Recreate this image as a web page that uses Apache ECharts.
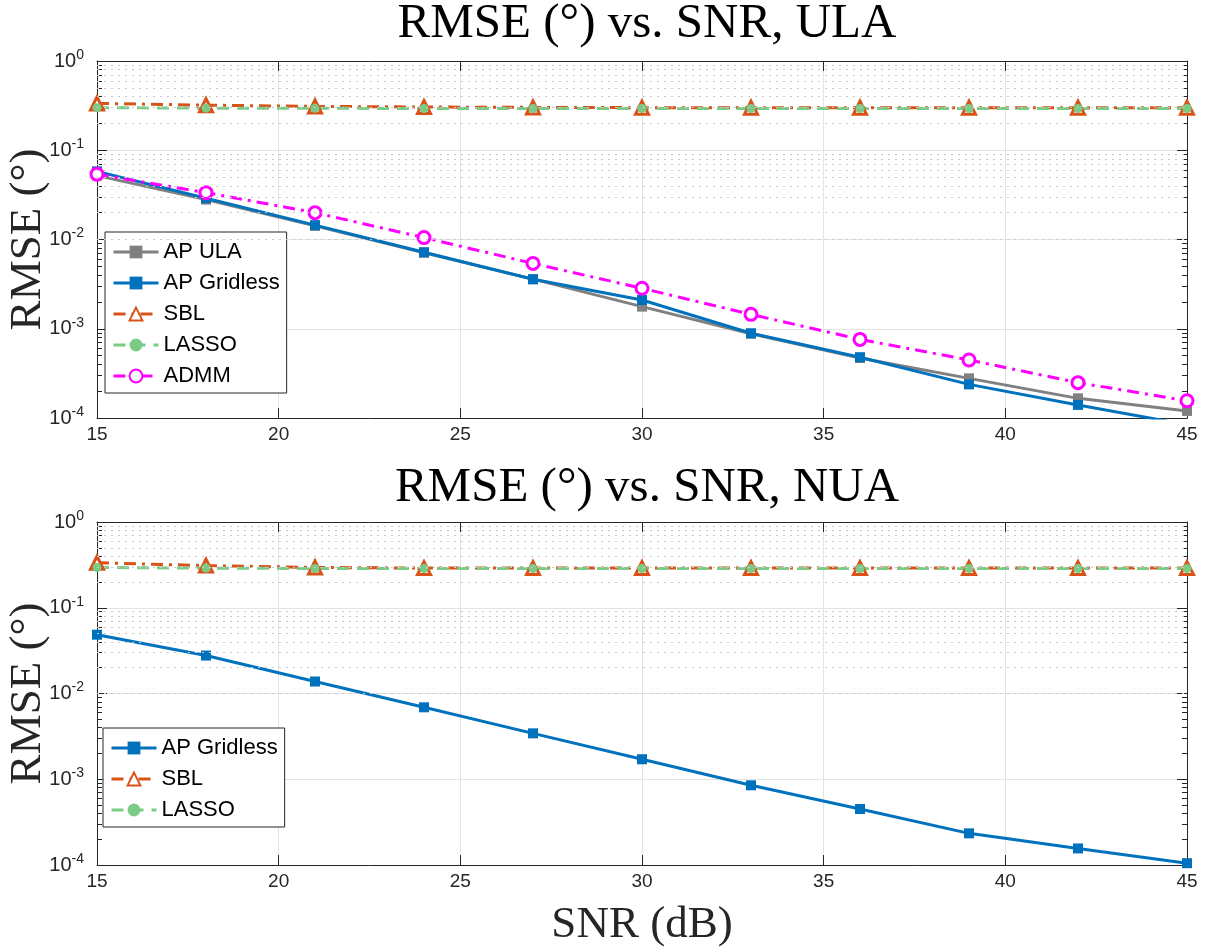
<!DOCTYPE html>
<html>
<head>
<meta charset="utf-8">
<script src="https://cdn.jsdelivr.net/npm/echarts@6/dist/echarts.min.js"></script>
<style>
html,body{margin:0;padding:0;background:#fff;}
#c{width:1206px;height:950px;}
</style>
</head>
<body>
<div id="c"></div>
<script>
// ---- data ----
const snr = [15, 18, 21, 24, 27, 30, 33, 36, 39, 42, 45];
const xTicks = [15, 20, 25, 30, 35, 40, 45];
const yTicks = [1e-4, 1e-3, 1e-2, 1e-1, 1];

// top: ULA
const ulaApUla    = [0.052, 0.028, 0.0142, 0.0071, 0.0036, 0.00177, 0.00088, 0.00047, 0.000278, 0.000166, 0.00012];
const ulaApGrid   = [0.058, 0.029, 0.0145, 0.0072, 0.00358, 0.0021, 0.00089, 0.00048, 0.000238, 0.00014, 0.000084];
const ulaSbl      = [0.335, 0.32, 0.31, 0.305, 0.302, 0.30, 0.30, 0.30, 0.30, 0.30, 0.30];
const ulaLasso    = [0.30, 0.296, 0.295, 0.294, 0.294, 0.294, 0.294, 0.294, 0.294, 0.294, 0.294];
const ulaAdmm     = [0.054, 0.0335, 0.020, 0.0105, 0.0054, 0.00284, 0.00145, 0.00076, 0.000447, 0.000249, 0.000156];

// bottom: NUA
const nuaApGrid   = [0.0485, 0.0277, 0.0138, 0.0069, 0.00343, 0.00171, 0.00085, 0.00045, 0.000234, 0.000156, 0.000105];
const nuaSbl      = [0.335, 0.31, 0.295, 0.29, 0.29, 0.29, 0.29, 0.29, 0.29, 0.29, 0.29];
const nuaLasso    = [0.295, 0.29, 0.287, 0.286, 0.286, 0.286, 0.286, 0.286, 0.286, 0.286, 0.286];

const titles = ['RMSE (\u00B0) vs. SNR, ULA', 'RMSE (\u00B0) vs. SNR, NUA'];
const yName = 'RMSE (\u00B0)';
const xName = 'SNR (dB)';
const minorMult = [2, 3, 4, 5, 6, 7, 8, 9];
// ---------------

const C = {
  gray: '#808080', blue: '#0072BD', orange: '#D95319', green: '#7ACB86', magenta: '#FF00FF', axis: '#262626'
};
const sans = 'Liberation Sans, Arial, Helvetica, sans-serif';
const serif = 'Liberation Serif, DejaVu Serif, serif';

function pairs(vals) { return snr.map((x, i) => [x, vals[i]]); }

const minorVals = [];
for (let e = -4; e < 0; e++) minorMult.forEach(m => minorVals.push(m * Math.pow(10, e)));
const minorLines = minorVals.map(v => ({ yAxis: v }));

const grids = [
  { left: 97, top: 61, width: 1090, height: 357, containLabel: false, outerBoundsMode: 'none' },
  { left: 97, top: 522, width: 1090, height: 343, containLabel: false, outerBoundsMode: 'none' }
];

function xAxisMain(gi, withName) {
  return {
    type: 'value', gridIndex: gi, min: 15, max: 45, interval: 5, position: 'bottom',
    axisLine: { show: true, onZero: false, lineStyle: { color: C.axis, width: 1 } },
    axisTick: { show: true, inside: true, length: 10, lineStyle: { color: C.axis } },
    axisLabel: { color: C.axis, fontSize: 19, fontFamily: sans, margin: 7 },
    splitLine: { show: true, lineStyle: { color: '#e3e3e3', width: 1 } },
    name: withName ? xName : '', nameLocation: 'middle', nameGap: 38, nameMoveOverlap: false,
    nameTextStyle: { fontFamily: serif, fontSize: 45, color: C.axis }
  };
}
function xAxisTop(gi) {
  return {
    type: 'value', gridIndex: gi, min: 15, max: 45, interval: 5, position: 'top',
    axisLine: { show: true, onZero: false, lineStyle: { color: C.axis, width: 1 } },
    axisTick: { show: true, inside: true, length: 10, lineStyle: { color: C.axis } },
    axisLabel: { show: false }, splitLine: { show: false }
  };
}
function supFmt(v) {
  const e = Math.round(Math.log10(v));
  return '{b|10}{s|' + e + '}';
}
function yAxisMain(gi) {
  return {
    type: 'log', gridIndex: gi, min: 1e-4, max: 1, logBase: 10, position: 'left',
    axisLine: { show: true, onZero: false, lineStyle: { color: C.axis, width: 1 } },
    axisTick: { show: true, inside: true, length: 10, lineStyle: { color: C.axis } },
    axisLabel: {
      color: C.axis, margin: 13, formatter: supFmt,
      rich: {
        b: { fontSize: 20, fontFamily: sans, color: C.axis },
        s: { fontSize: 14, fontFamily: sans, color: C.axis, padding: [0, 0, 12, 0] }
      }
    },
    splitLine: { show: true, lineStyle: { color: '#e3e3e3', width: 1 } },
    name: yName, nameLocation: 'middle', nameGap: 46, nameRotate: 90, nameMoveOverlap: false,
    nameTextStyle: { fontFamily: serif, fontSize: 45, color: C.axis }
  };
}
function yAxisPlain(gi, pos, minor) {
  return {
    type: 'log', gridIndex: gi, min: 1e-4, max: 1, logBase: 10, position: pos,
    axisLine: { show: !minor, onZero: false, lineStyle: { color: C.axis, width: 1 } },
    axisTick: minor
      ? { show: true, inside: true, length: 5, customValues: minorVals, lineStyle: { color: C.axis } }
      : { show: true, inside: true, length: 10, lineStyle: { color: C.axis } },
    axisLabel: { show: false }, splitLine: { show: false }
  };
}

const NY = 4;
function series(name, gi, vals, color, dash, symbol, opts) {
  opts = opts || {};
  return {
    name: name, type: 'line', xAxisIndex: gi * 2, yAxisIndex: gi * NY,
    data: pairs(vals), symbol: symbol, symbolSize: opts.size || 10,
    showAllSymbol: true, clip: true,
    lineStyle: { color: color, width: 3, type: dash },
    itemStyle: { color: opts.fill || color, borderColor: color, borderWidth: opts.bw || 0 },
    emphasis: { disabled: true }, z: opts.z || 2
  };
}
function minorSeries(gi) {
  return {
    type: 'line', xAxisIndex: gi * 2, yAxisIndex: gi * NY, data: [], silent: true,
    markLine: {
      silent: true, symbol: 'none', label: { show: false },
      lineStyle: { color: '#c8c8c8', type: [2, 5], width: 1 },
      data: minorLines, animation: false
    }
  };
}

const dashDot = [12, 6, 3, 6];
const dashed = [12, 8];

function legendCfg(names, left, top) {
  return {
    data: names, orient: 'vertical',
    left: left, top: top, itemWidth: 45, itemHeight: 16, itemGap: 9,
    padding: [9, 7, 6, 7],
    backgroundColor: '#fff', borderColor: '#262626', borderWidth: 1,
    lineStyle: { width: 3 },
    textStyle: { fontSize: 22, fontFamily: sans, color: '#000' },
    selectedMode: false
  };
}

const option = {
  animation: false,
  backgroundColor: '#ffffff',
  title: [
    { text: titles[0], left: 642, textAlign: 'center', top: -5, textStyle: { fontFamily: serif, fontSize: 49, fontWeight: 'normal', color: '#000' } },
    { text: titles[1], left: 642, textAlign: 'center', top: 459, textStyle: { fontFamily: serif, fontSize: 49, fontWeight: 'normal', color: '#000' } }
  ],
  grid: grids,
  xAxis: [xAxisMain(0, false), xAxisTop(0), xAxisMain(1, true), xAxisTop(1)],
  yAxis: [
    yAxisMain(0), yAxisPlain(0, 'right', false), yAxisPlain(0, 'left', true), yAxisPlain(0, 'right', true),
    yAxisMain(1), yAxisPlain(1, 'right', false), yAxisPlain(1, 'left', true), yAxisPlain(1, 'right', true)
  ],
  legend: [
    legendCfg(['AP ULA', 'AP Gridless', 'SBL', 'LASSO', 'ADMM'], 105, 232),
    legendCfg(['AP Gridless', 'SBL', 'LASSO'], 103, 728)
  ],
  series: [
    minorSeries(0), minorSeries(1),
    series('AP ULA', 0, ulaApUla, C.gray, 'solid', 'rect', { size: 10 }),
    series('AP Gridless', 0, ulaApGrid, C.blue, 'solid', 'rect', { size: 10 }),
    series('SBL', 0, ulaSbl, C.orange, dashDot, 'triangle', { size: 13, fill: '#fff', bw: 3 }),
    series('LASSO', 0, ulaLasso, C.green, dashed, 'circle', { size: 9 }),
    series('ADMM', 0, ulaAdmm, C.magenta, dashDot, 'circle', { size: 12, fill: '#fff', bw: 3 }),
    series('AP Gridless', 1, nuaApGrid, C.blue, 'solid', 'rect', { size: 10 }),
    series('SBL', 1, nuaSbl, C.orange, dashDot, 'triangle', { size: 13, fill: '#fff', bw: 3 }),
    series('LASSO', 1, nuaLasso, C.green, dashed, 'circle', { size: 9 })
  ]
};

const chart = echarts.init(document.getElementById('c'), null, { renderer: 'canvas' });
chart.setOption(option);
</script>
</body>
</html>
